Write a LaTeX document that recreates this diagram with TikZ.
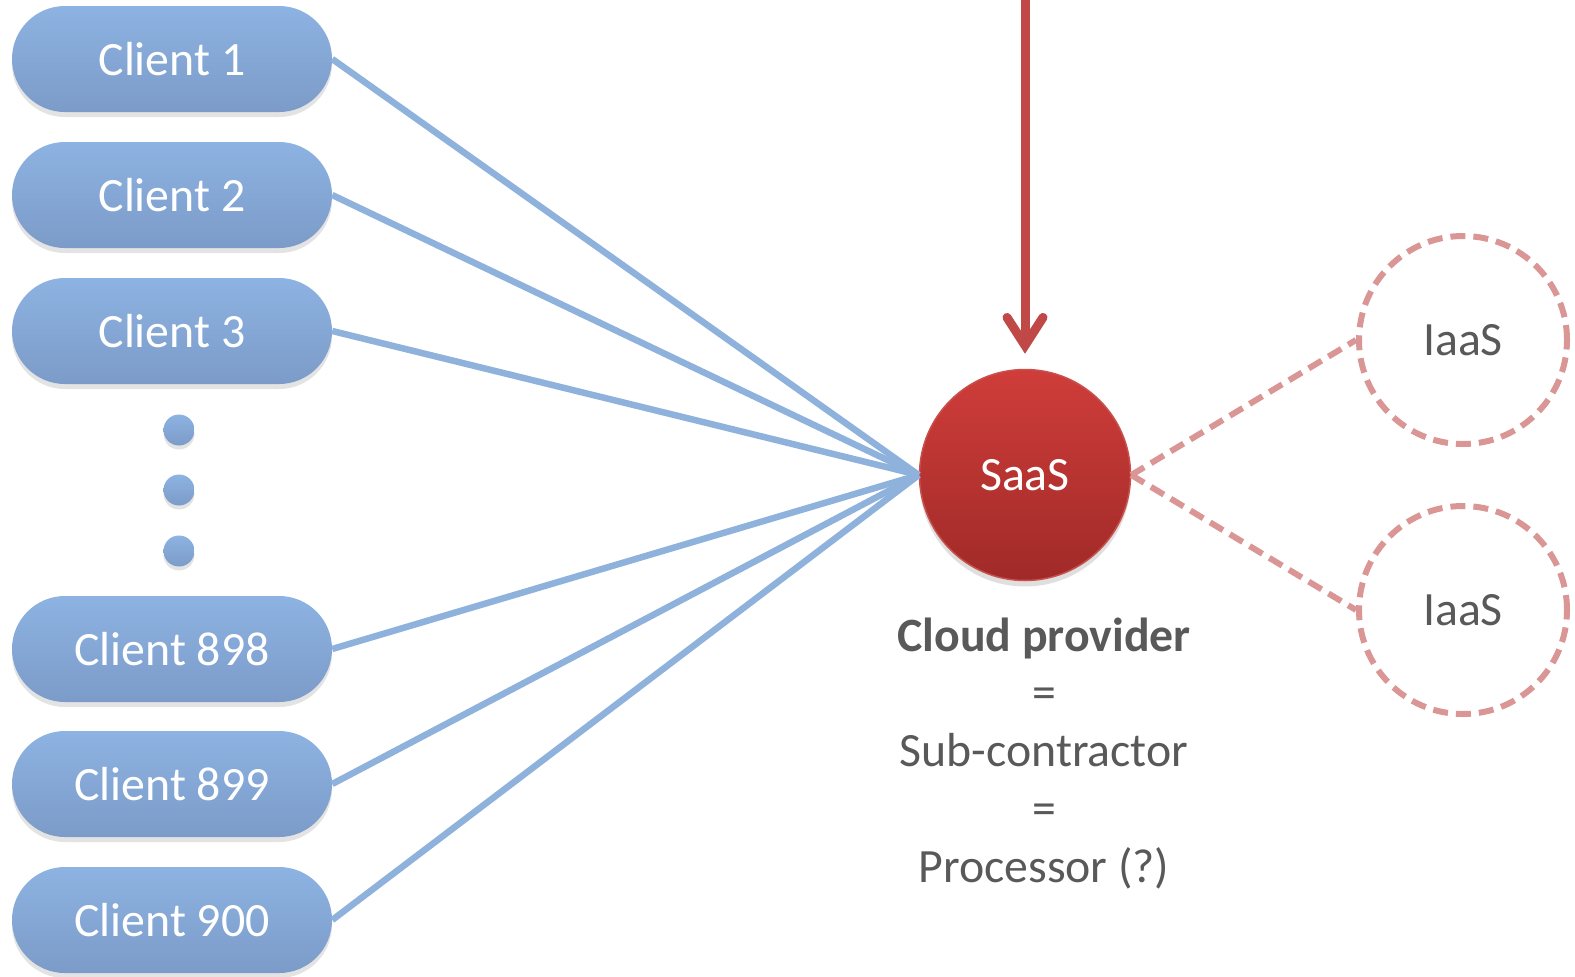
\documentclass[tikz,border=0pt]{standalone}
\usepackage{fontspec}
\setmainfont{Carlito}
\usetikzlibrary{arrows.meta,shadows,shapes.geometric}
\definecolor{cltop}{RGB}{141,179,226}
\definecolor{clbot}{RGB}{124,155,200}
\definecolor{link}{RGB}{142,178,220}
\definecolor{saastop}{RGB}{207,61,58}
\definecolor{saasbot}{RGB}{160,42,40}
\definecolor{saasedge}{RGB}{200,80,77}
\definecolor{arrowred}{RGB}{192,72,70}
\definecolor{iaasred}{RGB}{217,150,148}
\definecolor{txtgrey}{RGB}{89,89,89}
\tikzset{
  bigtext/.style={font=\fontsize{47.8bp}{57.75bp}\selectfont},
  client/.style={bigtext, rectangle, rounded corners=53bp, minimum width=320bp, minimum height=106bp,
    top color=cltop, bottom color=clbot, draw=none, text=white, inner sep=0bp,
    drop shadow={opacity=0.22, shadow xshift=0bp, shadow yshift=-5bp}},
  dotnode/.style={circle, minimum size=31bp, inner sep=0bp, top color=cltop, bottom color=clbot,
    drop shadow={opacity=0.22, shadow xshift=0bp, shadow yshift=-4bp}},
  saasnode/.style={bigtext, circle, minimum size=211bp, inner sep=0bp, top color=saastop, bottom color=saasbot,
    draw=saasedge, line width=1.5bp, text=white,
    drop shadow={opacity=0.25, shadow xshift=0bp, shadow yshift=-6bp}},
  iaasnode/.style={bigtext, circle, minimum size=208bp, inner sep=0bp, draw=iaasred, line width=6bp,
    dash pattern=on 15bp off 8bp, text=txtgrey},
  clientlink/.style={draw=link, line width=6.5bp},
  iaaslink/.style={draw=iaasred, line width=6bp, dash pattern=on 15bp off 8bp},
}
\begin{document}
\begin{tikzpicture}[x=1bp,y=-1bp]
\useasboundingbox (0,0) rectangle (1575,976);
\node[client] (c1) at (172,59) {Client 1};
\node[client] (c2) at (172,195) {Client 2};
\node[client] (c3) at (172,331) {Client 3};
\node[dotnode] (d1) at (179,430) {};
\node[dotnode] (d2) at (179,490) {};
\node[dotnode] (d3) at (179,551) {};
\node[client] (c898) at (172,649) {Client 898};
\node[client] (c899) at (172,784) {Client 899};
\node[client] (c900) at (172,920) {Client 900};
\node[saasnode] (saas) at (1025,475) {SaaS};
\node[iaasnode] (i1) at (1463,340) {IaaS};
\node[iaasnode] (i2) at (1463,610) {IaaS};
\coordinate (top) at (1025,-5);
\foreach \c in {c1,c2,c3,c898,c899,c900}
  \draw[clientlink] (\c.east) -- (saas.west);
\draw[iaaslink] (saas.east) -- (i1.west);
\draw[iaaslink] (saas.east) -- (i2.west);
\draw[draw=arrowred, line width=9bp, shorten >=15bp,
  -{Straight Barb[length=28bp,width=36bp,line cap=round]}] (top) -- (saas.north);
\node[bigtext, text=txtgrey, align=center, anchor=base] (label) at (1044,882)
  {\textbf{Cloud provider}\\=\\Sub-contractor\\=\\Processor (?)};
\end{tikzpicture}
\end{document}
